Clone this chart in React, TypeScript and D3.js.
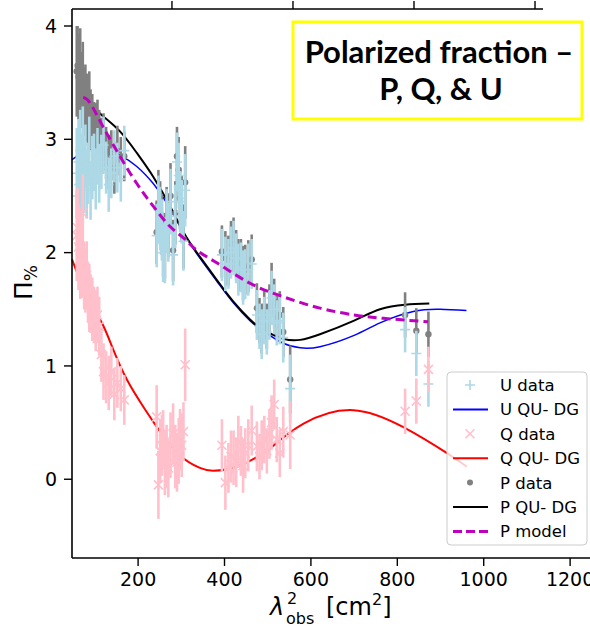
import React from "react";
import * as d3 from "d3";

// channel λ² values (cm²)
const lam2 = [
  58, 60, 62, 64, 66, 68, 70, 72, 75, 78, 81, 84, 87, 90, 94, 98, 102, 106, 110, 115, 120, 126, 132, 138, 145, 152, 160, 168,
  243, 247, 251, 255, 258, 262, 266, 270, 275, 281, 286, 290, 294, 297, 301, 305, 309,
  394, 402, 409, 415, 421, 427, 432, 438, 443, 448, 455, 463,
  475, 481, 486, 492, 498, 504, 509, 515, 521, 528, 536, 552,
  818, 844, 872,
];
const pVals = [
  3.6, 3.65, 3.55, 3.48, 3.62, 3.45, 3.4, 3.52, 3.33, 3.38, 3.28, 3.22, 3.3, 3.18, 3.12, 3.08, 3.05, 3.1, 3.0, 2.95, 2.98, 2.88, 2.8, 2.86, 2.75, 2.9, 2.82, 2.85,
  2.18, 2.43, 2.35, 2.25, 2.05, 2.06, 2.3, 2.22, 2.5, 2.02, 2.35, 2.85, 2.73, 2.48, 2.4, 2.12, 2.62,
  2.01, 1.95, 1.93, 2.05, 2.07, 1.98, 1.89, 1.9, 1.82, 1.85, 1.88, 1.94,
  1.51, 1.4, 1.33, 1.45, 1.35, 1.5, 1.67, 1.55, 1.42, 1.45, 1.3, 0.88,
  1.45, 1.31, 1.28,
];
const uVals = [
  2.7, 2.5, 2.8, 2.6, 2.9, 2.55, 2.75, 2.95, 2.65, 2.85, 2.6, 2.7, 2.9, 2.55, 2.75, 2.8, 2.65, 2.85, 2.7, 2.8, 2.95, 2.75, 2.6, 2.7, 2.85, 2.75, 2.65, 2.9,
  2.15, 2.38, 2.3, 2.2, 2.0, 2.02, 2.28, 2.18, 2.45, 1.98, 2.32, 2.8, 2.68, 2.45, 2.36, 2.1, 2.55,
  1.98, 1.9, 1.9, 2.0, 2.04, 1.95, 1.85, 1.87, 1.78, 1.81, 1.85, 1.9,
  1.45, 1.35, 1.28, 1.4, 1.3, 1.45, 1.6, 1.5, 1.38, 1.4, 1.25, 0.8,
  1.32, 1.11, 0.84,
];
const qVals = [
  2.15, 2.22, 2.05, 2.1, 1.95, 2.0, 1.9, 2.35, 1.8, 1.75, 1.8, 1.65, 1.6, 1.55, 1.5, 1.45, 1.4, 1.45, 1.35, 1.1, 0.95, 0.9, 0.85, 0.95, 0.75, 0.85, 0.8, 0.7,
  0.55, -0.05, 0.25, 0.3, 0.35, 0.15, 0.2, 0.1, 0.3, 0.4, 0.2, 0.15, 0.25, 0.35, 0.3, 0.42, 1.01,
  0.3, -0.03, 0.1, 0.2, 0.19, 0.15, 0.33, 0.25, 0.12, 0.23, 0.3, 0.43,
  0.29, 0.2, 0.3, 0.35, 0.25, 0.4, 0.5, 0.66, 0.35, 0.23, 0.42, 0.39,
  0.6, 0.69, 0.97,
];
const errVals = [
  0.4, 0.35, 0.38, 0.3, 0.36, 0.32, 0.3, 0.34, 0.3, 0.28, 0.3, 0.27, 0.3, 0.26, 0.28, 0.25, 0.27, 0.25, 0.26, 0.24, 0.25, 0.23, 0.24, 0.22, 0.23, 0.22, 0.2, 0.22,
  0.28, 0.3, 0.28, 0.27, 0.26, 0.29, 0.28, 0.26, 0.29, 0.27, 0.28, 0.26, 0.29, 0.27, 0.28, 0.26, 0.32,
  0.23, 0.24, 0.22, 0.23, 0.24, 0.22, 0.23, 0.22, 0.24, 0.22, 0.23, 0.22,
  0.22, 0.2, 0.22, 0.21, 0.2, 0.22, 0.24, 0.22, 0.2, 0.21, 0.22, 0.3,
  0.2, 0.2, 0.2,
];

// fitted curves
const uFitX = [47, 70, 89, 119, 158, 197, 235, 266, 305, 336, 382, 420, 459, 489, 536, 575, 621, 700, 760, 837, 899, 960];
const uFitY = [2.82, 2.88, 2.91, 2.92, 2.86, 2.76, 2.61, 2.44, 2.18, 1.99, 1.75, 1.56, 1.4, 1.31, 1.2, 1.16, 1.17, 1.27, 1.38, 1.48, 1.5, 1.49];
const qFitX = [47, 70, 96, 120, 143, 174, 212, 251, 297, 343, 374, 428, 482, 505, 583, 698, 814, 915, 961];
const qFitY = [1.94, 1.72, 1.52, 1.35, 1.14, 0.88, 0.64, 0.42, 0.21, 0.1, 0.076, 0.11, 0.21, 0.27, 0.49, 0.61, 0.46, 0.23, 0.11];
const pFitX = [66, 100, 120, 158, 197, 235, 274, 305, 336, 382, 420, 459, 489, 536, 575, 621, 700, 760, 818, 874];
const pFitY = [3.39, 3.27, 3.2, 3.07, 2.88, 2.67, 2.41, 2.18, 2.0, 1.76, 1.57, 1.41, 1.32, 1.24, 1.23, 1.28, 1.4, 1.5, 1.54, 1.55];
const pModX = [73, 89, 119, 158, 197, 235, 274, 305, 336, 382, 459, 536, 621, 700, 768, 871];
const pModY = [3.37, 3.32, 3.11, 2.85, 2.61, 2.41, 2.23, 2.13, 2.02, 1.91, 1.73, 1.61, 1.51, 1.45, 1.42, 1.39];

const xTicks = [200, 400, 600, 800, 1000, 1200];
const yTicks = [0, 1, 2, 3, 4];
const topTicks = [1, 2, 3, 4];

const titleLines = ["Polarized fraction \u2013", "P, Q, & U"];
const legendLabels = ["U data", "U QU- DG", "Q data", "Q QU- DG", "P data", "P QU- DG", "P model"];

const C_U = "#add8e6";
const C_Q = "#ffc0cb";
const C_P = "#808080";
const FONT = "'DejaVu Sans', sans-serif";

export default function App() {
  const W = 590, H = 628;
  const x = d3.scaleLinear().domain([47, 1246]).range([72, 590]);
  const y = d3.scaleLinear().domain([-0.695, 4.15]).range([558, 9]);
  const xTop = d3.scaleLinear().domain([0.174, 4.066]).range([72, 543]);

  const mk = (xs: number[], ys: number[]) =>
    d3.line<number>().x((_, i) => x(xs[i])).y((d) => y(d)).curve(d3.curveNatural)(ys) || "";

  const plus = (cx: number, cy: number, k: string) => (
    <path key={k} d={`M${cx - 5},${cy}H${cx + 5}M${cx},${cy - 5}V${cy + 5}`} stroke={C_U} strokeWidth={1.6} fill="none" />
  );
  const cross = (cx: number, cy: number, k: string) => (
    <path key={k} d={`M${cx - 4.5},${cy - 4.5}L${cx + 4.5},${cy + 4.5}M${cx - 4.5},${cy + 4.5}L${cx + 4.5},${cy - 4.5}`} stroke={C_Q} strokeWidth={1.6} fill="none" />
  );

  const bars = (vals: number[], color: string, pre: string) =>
    lam2.map((l, i) => (
      <line key={pre + i} x1={x(l)} x2={x(l)} y1={y(vals[i] - errVals[i])} y2={y(vals[i] + errVals[i])} stroke={color} strokeWidth={2.6} />
    ));

  const legX = 447, legY = 372;
  const rowY = (i: number) => 385 + i * 24.4;

  return (
    <svg width={W} height={H} style={{ position: "absolute", left: 0, top: 0, background: "#fff" }} fontFamily={FONT}>
      <rect x={0} y={0} width={W} height={H} fill="#fff" />
      {/* fitted lines below data */}
      <path d={mk(uFitX, uFitY)} stroke="#0000ff" strokeWidth={1.5} fill="none" />
      <path d={mk(qFitX, qFitY)} stroke="#ff0000" strokeWidth={2} fill="none" />
      <path d={mk(pFitX, pFitY)} stroke="#000" strokeWidth={2} fill="none" />

      {/* P data */}
      {bars(pVals, C_P, "pb")}
      {lam2.map((l, i) => <circle key={"pd" + i} cx={x(l)} cy={y(pVals[i])} r={3.2} fill={C_P} />)}
      {/* U data */}
      {bars(uVals, C_U, "ub")}
      {lam2.map((l, i) => plus(x(l), y(uVals[i]), "ud" + i))}
      {/* Q data */}
      {bars(qVals, C_Q, "qb")}
      {lam2.map((l, i) => cross(x(l), y(qVals[i]), "qd" + i))}

      {/* P model */}
      <path d={mk(pModX, pModY)} stroke="#bf00bf" strokeWidth={3} strokeDasharray="9,5" fill="none" />

      {/* axes */}
      <line x1={72} x2={72} y1={9} y2={558} stroke="#000" strokeWidth={1.6} />
      <line x1={72} x2={590} y1={558} y2={558} stroke="#000" strokeWidth={1.6} />
      <line x1={72} x2={543} y1={9} y2={9} stroke="#000" strokeWidth={1.6} />
      {yTicks.map((t) => (
        <g key={"yt" + t}>
          <line x1={64} x2={72} y1={y(t)} y2={y(t)} stroke="#000" strokeWidth={1.4} />
          <text x={57} y={y(t)} dy="0.36em" textAnchor="end" fontSize={19}>{t}</text>
        </g>
      ))}
      {xTicks.map((t) => (
        <g key={"xt" + t}>
          <line x1={x(t)} x2={x(t)} y1={558} y2={566} stroke="#000" strokeWidth={1.4} />
          <text x={x(t)} y={586} textAnchor="middle" fontSize={19}>{t}</text>
        </g>
      ))}
      {topTicks.map((t) => (
        <line key={"tt" + t} x1={xTop(t)} x2={xTop(t)} y1={1} y2={9} stroke="#000" strokeWidth={1.4} />
      ))}

      {/* axis labels */}
      <text transform="translate(32,300) rotate(-90)" fontSize={25}>
        Π<tspan fontSize={17} dy={5}>%</tspan>
      </text>
      <g fontSize={24}>
        <text x={270} y={615} fontStyle="italic">λ</text>
        <text x={287} y={604} fontSize={16}>2</text>
        <text x={286} y={624} fontSize={16}>obs</text>
        <text x={326} y={615}>
          [cm<tspan fontSize={16} dy={-10}>2</tspan><tspan dy={10}>]</tspan>
        </text>
      </g>

      {/* title box */}
      <rect x={293} y={22} width={289} height={97} fill="#fff" stroke="#ffff00" strokeWidth={3} />
      <text x={439} y={63} textAnchor="middle" fontFamily="Lato, sans-serif" fontWeight="bold" fontSize={31}>{titleLines[0]}</text>
      <text x={441} y={100} textAnchor="middle" fontFamily="Lato, sans-serif" fontWeight="bold" fontSize={31}>{titleLines[1]}</text>

      {/* legend */}
      <rect x={legX} y={legY} width={140} height={173} rx={4} fill="#fff" fillOpacity={0.8} stroke="#cccccc" strokeWidth={1} />
      {plus(470, rowY(0), "lg0")}
      <line x1={453} x2={488} y1={rowY(1)} y2={rowY(1)} stroke="#0000ff" strokeWidth={2} />
      {cross(470, rowY(2), "lg2")}
      <line x1={453} x2={488} y1={rowY(3)} y2={rowY(3)} stroke="#ff0000" strokeWidth={2} />
      <circle cx={470} cy={rowY(4)} r={3} fill={C_P} />
      <line x1={453} x2={488} y1={rowY(5)} y2={rowY(5)} stroke="#000" strokeWidth={2} />
      <line x1={453} x2={488} y1={rowY(6)} y2={rowY(6)} stroke="#bf00bf" strokeWidth={3} strokeDasharray="9,4" />
      {legendLabels.map((s, i) => (
        <text key={"ll" + i} x={500} y={rowY(i)} dy="0.36em" fontSize={16.5}>{s}</text>
      ))}
    </svg>
  );
}
